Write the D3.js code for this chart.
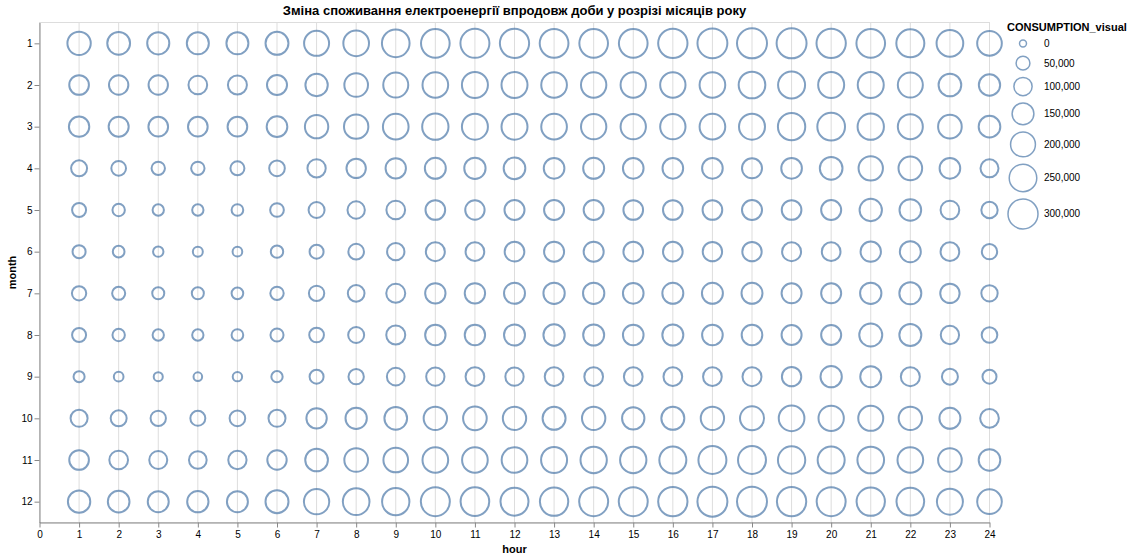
<!DOCTYPE html>
<html>
<head>
<meta charset="utf-8">
<script src="https://cdn.jsdelivr.net/npm/d3@7"></script>
<style>
  body { margin: 0; background: #fff; }
  text { font-family: "Liberation Sans", Arial, Helvetica, sans-serif; }
</style>
</head>
<body>
<svg id="chart" width="1132" height="559"></svg>
<script>
// ---------- data ----------
const months = [1, 2, 3, 4, 5, 6, 7, 8, 9, 10, 11, 12];
const hours = [1, 2, 3, 4, 5, 6, 7, 8, 9, 10, 11, 12, 13, 14, 15, 16, 17, 18, 19, 20, 21, 22, 23, 24];
const legendValues = [0, 50000, 100000, 150000, 200000, 250000, 300000];

// consumption per month (rows) for hours 1..24
const month1  = [175000,166000,155000,154000,153000,168000,203000,215000,252000,272000,279000,284000,274000,272000,273000,286000,298000,300000,299000,286000,272000,259000,234000,197000];
const month2  = [119000,115000,115000,106000,110000,124000,159000,180000,203000,215000,221000,221000,215000,209000,209000,209000,215000,233000,240000,221000,221000,203000,164000,143000];
const month3  = [129000,124000,119000,119000,119000,133000,175000,192000,215000,227000,221000,221000,215000,209000,209000,209000,215000,221000,246000,253000,227000,203000,180000,148000];
const month4  = [73000,59000,46000,46000,52000,69000,101000,115000,129000,138000,143000,148000,133000,138000,133000,133000,133000,124000,133000,164000,192000,180000,133000,97000];
const month5  = [52000,37000,28000,28000,31000,49000,73000,89000,106000,119000,115000,124000,124000,124000,119000,119000,119000,124000,119000,124000,159000,148000,106000,77000];
const month6  = [43000,31000,21000,18000,16000,37000,52000,69000,89000,110000,106000,119000,124000,124000,119000,119000,115000,115000,110000,106000,129000,138000,106000,66000];
const month7  = [55000,43000,34000,34000,31000,46000,66000,81000,110000,129000,129000,138000,143000,143000,133000,138000,138000,138000,124000,124000,143000,153000,115000,77000];
const month8  = [52000,37000,28000,28000,31000,43000,59000,73000,110000,129000,129000,138000,143000,138000,133000,138000,133000,133000,124000,124000,169000,153000,101000,69000];
const month9  = [26000,16000,12000,9000,14000,28000,52000,66000,93000,101000,106000,101000,106000,106000,106000,106000,106000,110000,115000,143000,138000,110000,73000,52000];
const month10 = [85000,73000,66000,62000,69000,85000,129000,143000,164000,175000,180000,175000,169000,175000,159000,169000,175000,186000,215000,209000,203000,175000,138000,106000];
const month11 = [119000,106000,97000,93000,101000,115000,164000,180000,197000,215000,215000,215000,221000,227000,227000,240000,259000,259000,246000,240000,233000,215000,180000,148000];
const month12 = [159000,148000,138000,143000,138000,169000,209000,233000,246000,279000,272000,259000,266000,279000,279000,286000,300000,300000,286000,279000,266000,253000,221000,197000];
const consumptionByMonth = [month1, month2, month3, month4, month5, month6, month7, month8, month9, month10, month11, month12];

const titleText = "Зміна споживання електроенергії впродовж доби у розрізі місяців року";

// ---------- layout ----------
const W = 950, H = 500;
const leftX = 39.5, topY = 22.5;
const color = "#4c78a8";

const svg = d3.select("#chart");
const g = svg.append("g").attr("transform", `translate(${leftX},${topY})`);

const x = d3.scaleLinear().domain([0, 24]).range([0, W]);
const y = d3.scalePoint().domain(months).range([0, H]).padding(0.5);
const size = d3.scaleLinear().domain([0, 300000]).range([38, 707]);
const rad = v => Math.sqrt(size(v) / Math.PI);

// grid
g.append("g").selectAll("line").data(x.ticks(24)).join("line")
  .attr("x1", d => x(d)).attr("x2", d => x(d))
  .attr("y1", 0).attr("y2", H)
  .attr("stroke", "#ddd").attr("stroke-width", 1);

// view border
g.append("rect").attr("x", 0).attr("y", 0).attr("width", W).attr("height", H)
  .attr("fill", "none").attr("stroke", "#ddd");

// x axis
const xAxis = g.append("g").attr("transform", `translate(0,${H})`)
  .call(d3.axisBottom(x).ticks(24).tickSize(5).tickSizeOuter(0).tickPadding(3).tickFormat(d3.format("d")));
xAxis.attr("font-family", null).attr("font-size", 10);
xAxis.selectAll("path, line").attr("stroke", "#888");
xAxis.selectAll("text").attr("fill", "#000");

// y axis
const yAxis = g.append("g")
  .call(d3.axisLeft(y).tickSize(5).tickSizeOuter(0).tickPadding(2));
yAxis.attr("font-family", null).attr("font-size", 10);
yAxis.selectAll("path, line").attr("stroke", "#888");
yAxis.selectAll("text").attr("fill", "#000");

// points
const points = [];
consumptionByMonth.forEach((row, i) => {
  row.forEach((v, j) => points.push({ month: months[i], hour: hours[j], value: v }));
});
g.append("g").selectAll("circle").data(points).join("circle")
  .attr("cx", d => x(d.hour))
  .attr("cy", d => y(d.month))
  .attr("r", d => rad(d.value))
  .attr("fill", "none")
  .attr("stroke", color)
  .attr("stroke-width", 2)
  .attr("opacity", 0.7);

// titles
svg.append("text")
  .attr("x", leftX + W / 2).attr("y", 15)
  .attr("text-anchor", "middle")
  .attr("font-size", 13).attr("font-weight", "bold")
  .text(titleText);

svg.append("text")
  .attr("x", leftX + W / 2).attr("y", 553)
  .attr("text-anchor", "middle")
  .attr("font-size", 11).attr("font-weight", "bold")
  .text("hour");

svg.append("text")
  .attr("transform", `translate(15.5,${topY + H / 2}) rotate(-90)`)
  .attr("text-anchor", "middle")
  .attr("font-size", 11).attr("font-weight", "bold")
  .text("month");

// legend
const lg = svg.append("g").attr("transform", "translate(1007,0)");
lg.append("text").attr("x", 0).attr("y", 30.5)
  .attr("font-size", 11).attr("font-weight", "bold")
  .text("CONSUMPTION_visual");

const gap = 5.3;
let prevHalf = 0, cy = 0;
const entries = legendValues.map((v, i) => {
  const ro = rad(v) + 1;
  const half = Math.max(ro, 6.5);
  cy = i === 0 ? 43.5 : cy + prevHalf + gap + half;
  prevHalf = half;
  return { v, cy };
});
const maxR = rad(legendValues[legendValues.length - 1]) + 1;
lg.selectAll("circle").data(entries).join("circle")
  .attr("cx", maxR).attr("cy", d => d.cy)
  .attr("r", d => rad(d.v))
  .attr("fill", "none").attr("stroke", color)
  .attr("stroke-width", 1.5).attr("opacity", 0.7);
lg.selectAll("text.lbl").data(entries).join("text")
  .attr("class", "lbl")
  .attr("x", 2 * maxR + 5).attr("y", d => d.cy).attr("dy", "0.35em")
  .attr("font-size", 10).attr("fill", "#000")
  .text(d => d3.format(",")(d.v));
</script>
</body>
</html>
